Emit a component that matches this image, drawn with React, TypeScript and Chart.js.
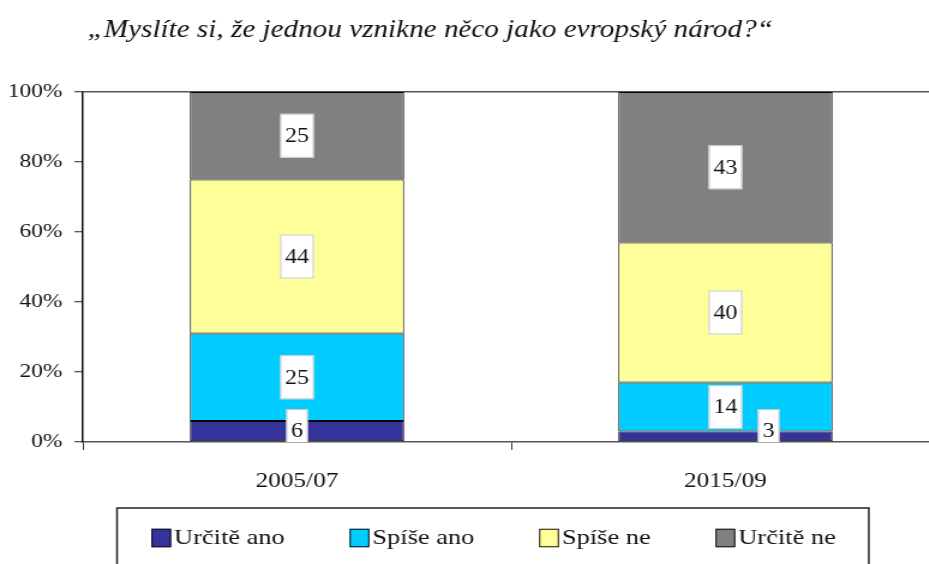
import React, { useEffect, useRef } from "react";
import { Chart, registerables } from "chart.js";

Chart.register(...registerables);

const titleText = "„Myslíte si, že jednou vznikne něco jako evropský národ?“";
const categories = ["2005/07", "2015/09"];
const seriesNames = ["Určitě ano", "Spíše ano", "Spíše ne", "Určitě ne"];
const urciteAno = [6, 3];
const spiseAno = [25, 14];
const spiseNe = [44, 40];
const urciteNe = [25, 43];
const yTickValues = [0, 20, 40, 60, 80, 100];
const seriesColors = ["#333399", "#00CCFF", "#FFFF99", "#808080"];

const SERIF = '"Liberation Serif", "Times New Roman", serif';
const TEXT = "#111";

const titlePlugin = {
  id: "customTitle",
  afterDraw(chart: any) {
    const ctx = chart.ctx;
    ctx.save();
    ctx.font = `italic 24.3px ${SERIF}`;
    ctx.fillStyle = TEXT;
    ctx.textAlign = "left";
    ctx.textBaseline = "middle";
    ctx.fillText(titleText, 73, 31);
    ctx.restore();
  },
};

const segLabelPlugin = {
  id: "segLabels",
  afterDatasetsDraw(chart: any) {
    const ctx = chart.ctx;
    const area = chart.chartArea;
    ctx.save();
    ctx.beginPath();
    ctx.rect(area.left, area.top, area.right - area.left, area.bottom - area.top);
    ctx.clip();
    ctx.font = `20px ${SERIF}`;
    ctx.textAlign = "center";
    ctx.textBaseline = "middle";
    const n = chart.data.labels.length;
    const nds = chart.data.datasets.length;
    for (let i = 0; i < n; i++) {
      let prev: any = null;
      for (let di = nds - 1; di >= 0; di--) {
        const ds = chart.data.datasets[di];
        const el = chart.getDatasetMeta(di).data[i];
        const text = String(ds.data[i]);
        const tw = ctx.measureText(text).width;
        const w = tw + 8;
        const h = 44;
        let cx = el.x;
        const cy = Math.min((el.y + el.base) / 2, area.bottom - 11);
        if (
          prev &&
          Math.abs(cy - prev.cy) < (h + prev.h) / 2 &&
          Math.abs(cx - prev.cx) < (w + prev.w) / 2
        ) {
          cx = prev.cx + prev.w / 2 + w / 2 + 13;
        }
        ctx.fillStyle = "#ffffff";
        ctx.fillRect(cx - w / 2, cy - h / 2, w, h);
        ctx.strokeStyle = "#c8c8c8";
        ctx.lineWidth = 1;
        ctx.strokeRect(cx - w / 2 + 0.5, cy - h / 2 + 0.5, w - 1, h - 1);
        ctx.fillStyle = TEXT;
        ctx.fillText(text, cx, cy + 1);
        prev = { cx, cy, w, h };
      }
    }
    ctx.restore();
  },
};

const legendPlugin = {
  id: "boxLegend",
  afterDraw(chart: any) {
    const ctx = chart.ctx;
    ctx.save();
    const boxL = 97.5;
    const boxR = 724;
    const boxT = 508;
    ctx.strokeStyle = "#222";
    ctx.lineWidth = 1.5;
    ctx.strokeRect(boxL, boxT, boxR - boxL, 120);
    ctx.font = `22px ${SERIF}`;
    ctx.textBaseline = "middle";
    ctx.textAlign = "left";
    const sw = 16.5;
    const sh = 18.5;
    const gap = 2.5;
    const spacing = 54;
    const widths = seriesNames.map((s) => ctx.measureText(s).width);
    const total =
      widths.reduce((a, b) => a + b, 0) + seriesNames.length * (sw + gap) + (seriesNames.length - 1) * spacing;
    let x = (boxL + boxR) / 2 - total / 2 + 0.5;
    const cy = 538;
    seriesNames.forEach((s, i) => {
      ctx.fillStyle = seriesColors[i];
      ctx.fillRect(x, cy - sh / 2, sw, sh);
      ctx.strokeStyle = "#111";
      ctx.lineWidth = 1;
      ctx.strokeRect(x + 0.5, cy - sh / 2 + 0.5, sw - 1, sh - 1);
      ctx.fillStyle = TEXT;
      ctx.fillText(s, x + sw + gap, cy);
      x += sw + gap + widths[i] + spacing;
    });
    ctx.restore();
  },
};

export default function App() {
  const ref = useRef<HTMLCanvasElement>(null);
  useEffect(() => {
    const seriesData = [urciteAno, spiseAno, spiseNe, urciteNe];
    const chart = new Chart(ref.current as HTMLCanvasElement, {
      type: "bar",
      data: {
        labels: categories,
        datasets: seriesNames.map((name, i) => ({
          label: name,
          data: seriesData[i],
          backgroundColor: seriesColors[i],
          borderColor: "#000",
          borderWidth: 1,
          borderSkipped: false,
          barPercentage: 0.5,
          categoryPercentage: 1,
        })),
      },
      options: {
        responsive: false,
        animation: false,
        devicePixelRatio: 1,
        layout: { padding: { top: 92, left: 7, right: 7, bottom: 62 } },
        plugins: {
          legend: { display: false },
          tooltip: { enabled: false },
          title: { display: false },
        },
        scales: {
          x: {
            stacked: true,
            offset: true,
            grid: {
              offset: true,
              drawOnChartArea: false,
              drawTicks: true,
              tickLength: 8,
              tickColor: "#333",
              tickWidth: 1,
            },
            border: { display: true, color: "#555", width: 1.5 },
            ticks: {
              font: { family: SERIF, size: 21 },
              color: TEXT,
              padding: 19,
            },
            afterFit: (s: any) => {
              s.height = 60;
            },
          },
          y: {
            stacked: true,
            min: 0,
            max: 100,
            afterBuildTicks: (s: any) => {
              s.ticks = yTickValues.map((v) => ({ value: v }));
            },
            ticks: {
              callback: (v: any) => v + "%",
              font: { family: SERIF, size: 19.5 },
              color: TEXT,
              padding: 10,
            },
            grid: {
              color: (c: any) => (c.tick && c.tick.value === 100 ? "#555" : "rgba(0,0,0,0)"),
              lineWidth: 1.5,
              drawTicks: true,
              tickLength: 7,
              tickColor: "#222",
              tickWidth: 1,
            },
            border: { display: true, color: "#111", width: 1.5 },
            afterFit: (s: any) => {
              s.width = 62;
            },
          },
        },
      } as any,
      plugins: [titlePlugin, segLabelPlugin, legendPlugin],
    });
    return () => chart.destroy();
  }, []);
  return (
    <div
      style={{
        position: "fixed",
        left: 0,
        top: 0,
        width: 929,
        height: 564,
        overflow: "hidden",
        background: "#fff",
      }}
    >
      <div style={{ width: 790, height: 564, transform: "scaleX(1.2)", transformOrigin: "0 0" }}>
        <canvas ref={ref} width={790} height={564} style={{ width: "790px", height: "564px", display: "block" }} />
      </div>
    </div>
  );
}
